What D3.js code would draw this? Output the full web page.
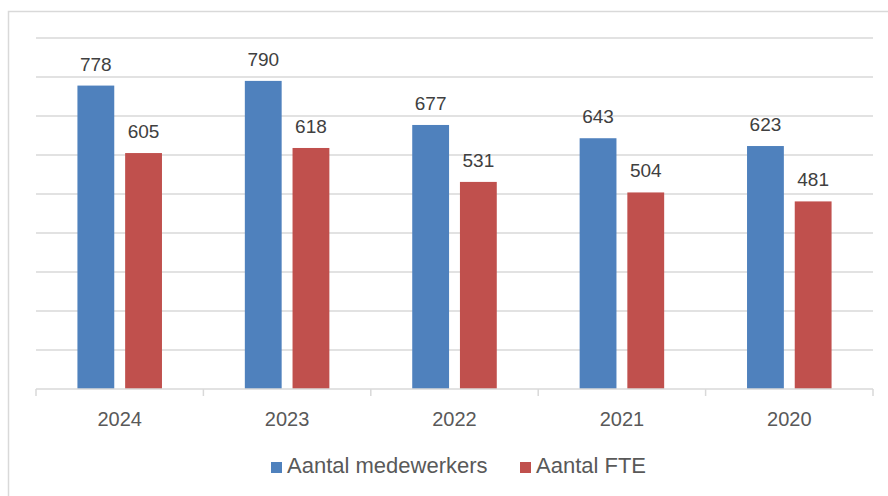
<!DOCTYPE html>
<html><head><meta charset="utf-8">
<script src="https://cdn.jsdelivr.net/npm/d3@7"></script>
<style>body{margin:0;background:#fff}svg{display:block}text{font-family:"Liberation Sans",Arial,sans-serif}</style>
</head><body>
<svg id="c" width="888" height="496"></svg>
<script>
const categories = ["2024","2023","2022","2021","2020"];
const seriesNames = ["Aantal medewerkers","Aantal FTE"];
const medewerkers = [778,790,677,643,623];
const fte = [605,618,531,504,481];
const yTicks = [0,100,200,300,400,500,600,700,800,900];
const colors = ["#4F81BD","#C0504D"];

(function(){
const svg = d3.select("#c");
svg.append("rect").attr("x",8.5).attr("y",11.5).attr("width",900).attr("height",500)
  .attr("fill","none").attr("stroke","#d9d9d9").attr("stroke-width",1.5);

const pl=36, pr=873, pt=38, pb=389;
const x = d3.scaleBand().domain(categories).range([pl,pr]).padding(0);
const y = d3.scaleLinear().domain([0,900]).range([pb,pt]);

svg.append("g").selectAll("line").data(yTicks.slice(1)).join("line")
  .attr("x1",pl).attr("x2",pr).attr("y1",d=>y(d)).attr("y2",d=>y(d))
  .attr("stroke","#d9d9d9").attr("stroke-width",1.5);

const bw = x.bandwidth();
const barW = bw*0.22, off = bw*0.1425;
const series = [medewerkers, fte];
series.forEach((vals,si)=>{
  const g = svg.append("g");
  const cx = c => x(c)+bw/2 + (si===0?-off:off);
  g.selectAll("rect").data(categories).join("rect")
    .attr("x",(c)=>cx(c)-barW/2).attr("width",barW)
    .attr("y",(c,i)=>y(vals[i])).attr("height",(c,i)=>pb-y(vals[i]))
    .attr("fill",colors[si]);
  g.selectAll("text").data(categories).join("text")
    .attr("x",cx).attr("y",(c,i)=>y(vals[i])-15)
    .attr("text-anchor","middle").attr("font-size",19).attr("fill","#404040")
    .text((c,i)=>vals[i]);
});

const xAxis = svg.append("g").attr("transform",`translate(0,${pb})`)
  .call(d3.axisBottom(x).tickSize(0).tickFormat(d=>d));
xAxis.select(".domain").remove();
xAxis.selectAll("text").attr("font-size",20).attr("fill","#595959").attr("dy",0).attr("y",37)
  .style("font-family","'Liberation Sans',Arial,sans-serif");
svg.append("line").attr("x1",pl).attr("x2",pr).attr("y1",pb).attr("y2",pb)
  .attr("stroke","#d9d9d9").attr("stroke-width",1.5);
const bounds = categories.map(c=>x(c)).concat([pr]);
svg.append("g").selectAll("line").data(bounds).join("line")
  .attr("x1",d=>d).attr("x2",d=>d).attr("y1",pb).attr("y2",pb+7)
  .attr("stroke","#d9d9d9").attr("stroke-width",1.5);

const leg = svg.append("g");
const legX = [271, 520];
seriesNames.forEach((n,i)=>{
  leg.append("rect").attr("x",legX[i]).attr("y",462).attr("width",11).attr("height",11).attr("fill",colors[i]);
  leg.append("text").attr("x",legX[i]+16).attr("y",472.5).attr("font-size",22).attr("fill","#595959").text(n);
});
})();
</script>
</body></html>
